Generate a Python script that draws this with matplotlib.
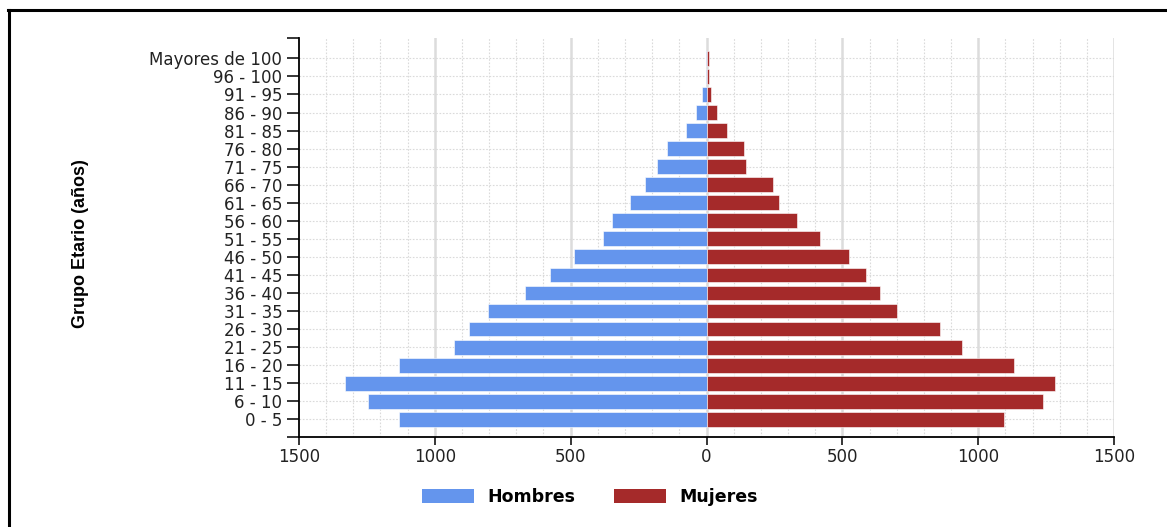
import matplotlib
matplotlib.use("Agg")
import matplotlib.pyplot as plt
from matplotlib.ticker import MultipleLocator, FuncFormatter, FixedLocator
from matplotlib.patches import Patch
from matplotlib.lines import Line2D

categories = ["0 - 5", "6 - 10", "11 - 15", "16 - 20", "21 - 25", "26 - 30",
              "31 - 35", "36 - 40", "41 - 45", "46 - 50", "51 - 55", "56 - 60",
              "61 - 65", "66 - 70", "71 - 75", "76 - 80", "81 - 85", "86 - 90",
              "91 - 95", "96 - 100", "Mayores de 100"]
hombres = [1133, 1247, 1329, 1133, 929, 874, 806, 669, 577, 489, 380, 349,
           281, 227, 182, 145, 76, 38, 16, 2, 1]
mujeres = [1096, 1240, 1284, 1133, 942, 859, 700, 638, 586, 524, 418, 334,
           266, 244, 145, 137, 76, 38, 15, 8, 8]
xticks = [-1500, -1000, -500, 0, 500, 1000, 1500]

blue = "#6495ED"
red = "#A52A2A"

fig = plt.figure(figsize=(11.67, 5.27), dpi=100)
ax = fig.add_axes([0.2562, 0.1708, 0.9546 - 0.2562, 0.9279 - 0.1708])

y = list(range(len(categories)))
ax.barh(y, [-v for v in hombres], height=0.82, color=blue, zorder=3,
        edgecolor="white", linewidth=0.4, label="Hombres")
ax.barh(y, mujeres, height=0.82, color=red, zorder=3,
        edgecolor="white", linewidth=0.4, label="Mujeres")

ax.set_xlim(-1500, 1500)
ax.set_ylim(-0.98, len(categories) - 1 + 1.13)

ax.set_yticks(y)
ax.set_yticklabels(categories)
ax.yaxis.set_minor_locator(FixedLocator([ax.get_ylim()[0], ax.get_ylim()[1]]))
ax.set_xticks(xticks)
ax.xaxis.set_major_formatter(FuncFormatter(lambda v, p: f"{abs(int(v))}"))
ax.xaxis.set_minor_locator(MultipleLocator(100))

# grid
for xv in range(-1400, 1501, 100):
    if xv % 500 == 0:
        ax.axvline(xv, color="#dcdcdc", lw=1.8, zorder=1)
    else:
        ax.axvline(xv, color="#dadada", lw=0.8, ls=(0, (1.5, 1.5)), zorder=1)
for yv in y:
    ax.axhline(yv, color="#dadada", lw=0.8, ls=(0, (1.5, 1.5)), zorder=1)

for s in ["top", "right"]:
    ax.spines[s].set_visible(False)
ax.spines["left"].set_linewidth(1.3)
ax.spines["bottom"].set_linewidth(1.3)

ax.tick_params(axis="y", which="both", length=9, width=1.1, direction="out",
               labelsize=12, colors="black", labelcolor="#222222", pad=3)
ax.tick_params(axis="y", which="minor", labelleft=False)
ax.tick_params(axis="x", which="major", length=6, width=1.1, direction="out",
               labelsize=12, labelcolor="#222222", pad=2)
ax.tick_params(axis="x", which="minor", length=0)

ax.set_ylabel("Grupo Etario (años)", fontsize=13, fontweight="bold",
              family=["Liberation Sans", "DejaVu Sans"])
ax.yaxis.set_label_coords(-0.258, 0.486)

handles = [Patch(facecolor=blue, label="Hombres"),
           Patch(facecolor=red, label="Mujeres")]
fig.legend(handles=handles, loc="center", bbox_to_anchor=(590 / 1167, 1 - 497 / 527),
           ncol=2, frameon=False, prop={"weight": "bold", "size": 12.5},
           handlelength=3.0, handleheight=0.8, columnspacing=2.2, handletextpad=0.8)

# outer border (clipped by image on right and bottom)
fig.add_artist(Line2D([9 / 1167, 9 / 1167], [0, 1 - 9.5 / 527],
                      transform=fig.transFigure, color="black", lw=2.2))
fig.add_artist(Line2D([8 / 1167, 1], [1 - 9.5 / 527, 1 - 9.5 / 527],
                      transform=fig.transFigure, color="black", lw=2.2))

fig.savefig("out.png", dpi=100)
